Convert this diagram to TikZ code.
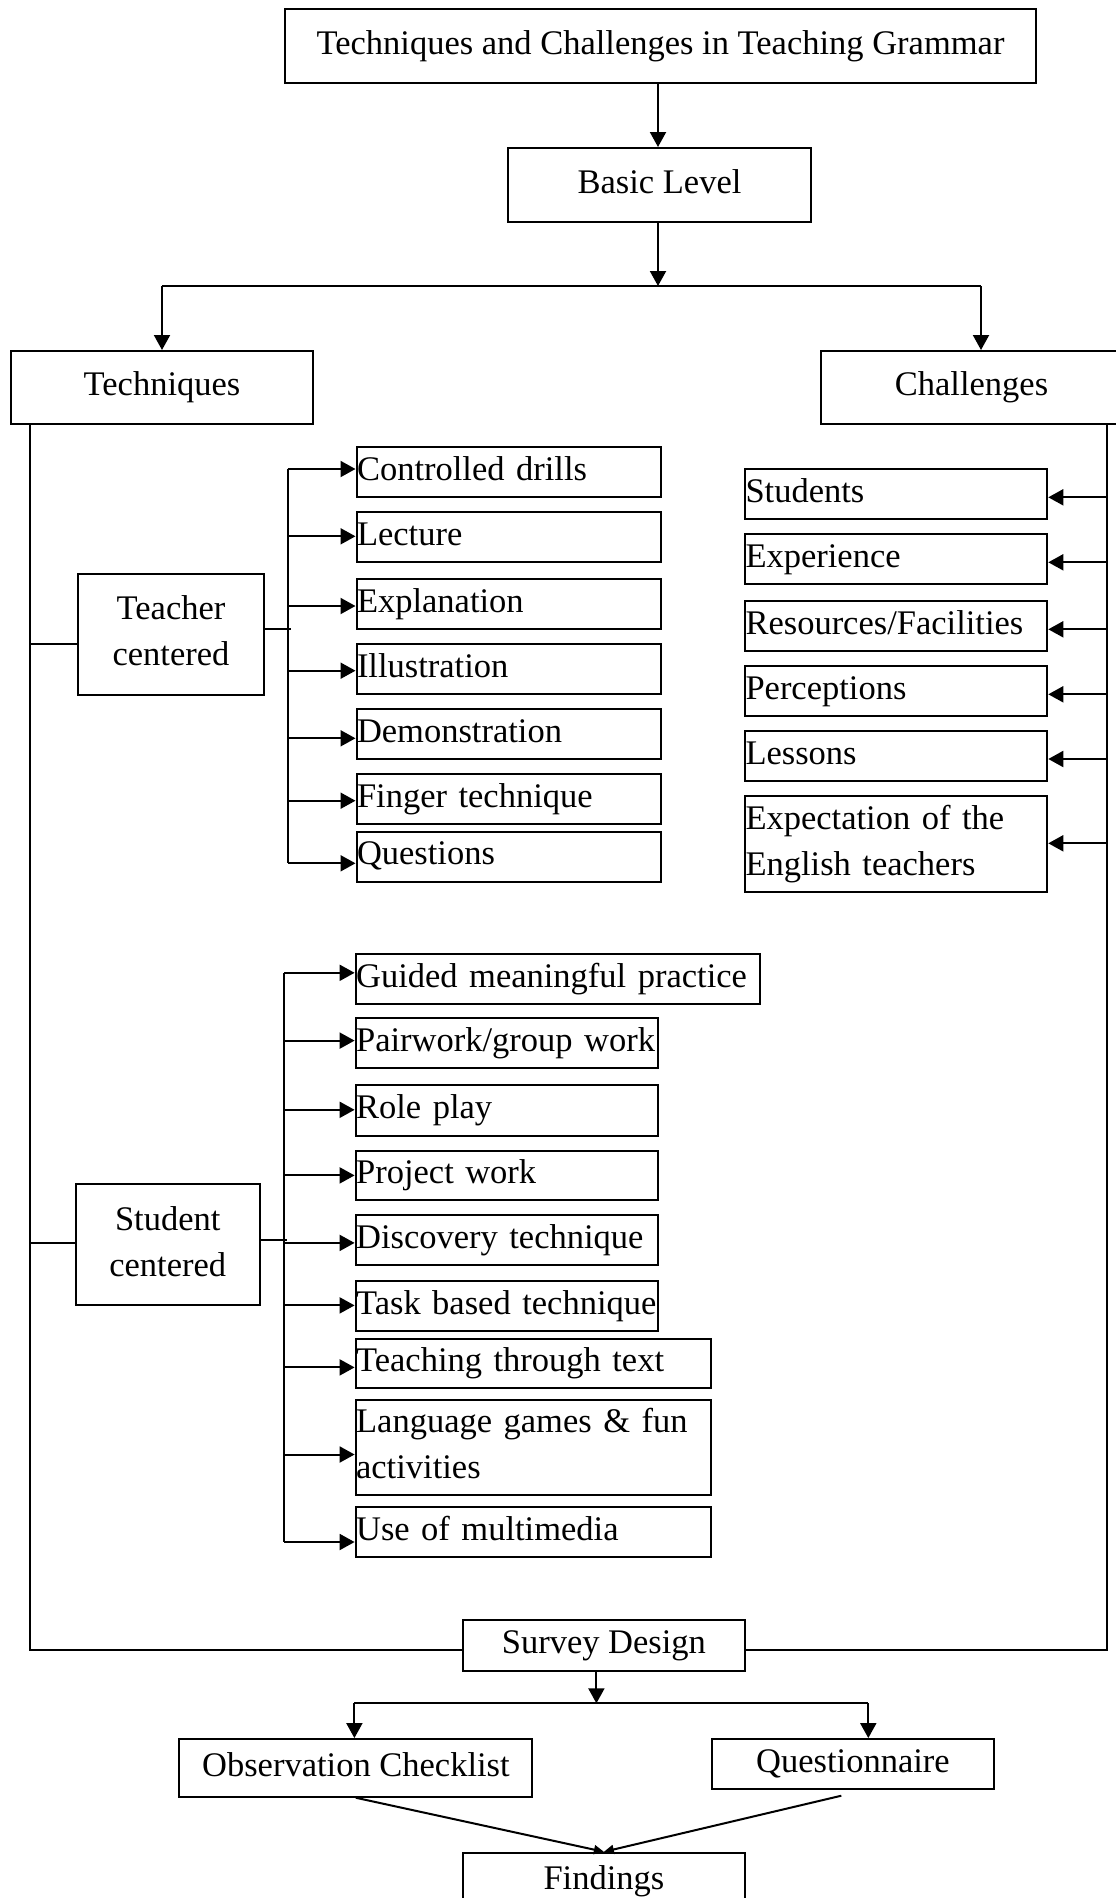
\documentclass[tikz,border=0pt]{standalone}
\usepackage{fontspec}
\setmainfont{Liberation Serif}
\usetikzlibrary{arrows.meta}
\newcommand{\mystr}{\rule[-7.5pt]{0pt}{31.5pt}}
\begin{document}
\begin{tikzpicture}[x=1pt,y=-1pt,
  every node/.style={font=\fontsize{34.5}{46}\selectfont},
  box/.style={draw, line width=2pt, inner sep=0pt, align=center},
  lbox/.style={draw, line width=2pt, inner xsep=0.5pt, inner ysep=0pt, align=left},
  ln/.style={line width=2pt},
  arr/.style={line width=2pt,-{Triangle[length=15pt,width=16pt]}},
  sarr/.style={line width=2pt,-{Triangle[length=10pt,width=9pt]}}]
\clip (0,0) rectangle (1116,1898);
\fill[white] (0,0) rectangle (1116,1898);
% top level
\node[box, minimum width=751pt, minimum height=74pt] (title) at (660.5,46.3) {\mystr Techniques and Challenges in Teaching Grammar};
\node[box, minimum width=303pt, minimum height=74pt] (basic) at (659.5,185) {\mystr Basic Level};
\node[box, minimum width=302pt, minimum height=73pt] (tech) at (162,387.5) {\mystr Techniques};
\node[box, minimum width=301pt, minimum height=73pt] (chal) at (971.5,387.5) {\mystr Challenges};
% teacher centered
\node[box, minimum width=186pt, minimum height=121.3pt] (teacher) at (171,634.4) {\mystr Teacher\\\mystr centered};
\node[lbox, text width=303.5pt, minimum height=50pt] (cd) at (508.75,472.3) {\mystr Controlled drills};
\node[lbox, text width=303.5pt, minimum height=50pt] (lec) at (508.75,537.3) {\mystr Lecture};
\node[lbox, text width=303.5pt, minimum height=50pt] (expl) at (508.75,604.3) {\mystr Explanation};
\node[lbox, text width=303.5pt, minimum height=50pt] (ill) at (508.75,669.3) {\mystr Illustration};
\node[lbox, text width=303.5pt, minimum height=50pt] (dem) at (508.75,734) {\mystr Demonstration};
\node[lbox, text width=303.5pt, minimum height=50pt] (fin) at (508.75,799) {\mystr Finger technique};
\node[lbox, text width=303.5pt, minimum height=50pt] (que) at (508.75,856.7) {\mystr Questions};
% challenges
\node[lbox, text width=301.3pt, minimum height=50pt] (stu) at (896.15,494) {\mystr Students};
\node[lbox, text width=301.3pt, minimum height=50pt] (exp) at (896.15,559) {\mystr Experience};
\node[lbox, text width=301.3pt, minimum height=50pt] (res) at (896.15,626) {\mystr Resources/Facilities};
\node[lbox, text width=301.3pt, minimum height=50pt] (per) at (896.15,691) {\mystr Perceptions};
\node[lbox, text width=301.3pt, minimum height=49.7pt] (les) at (896.15,755.85) {\mystr Lessons};
\node[lbox, text width=301.3pt, minimum height=96pt] (expc) at (896.15,843.7) {\mystr Expectation of the\\\mystr English teachers};
% student centered
\node[box, minimum width=184.5pt, minimum height=121pt] (student) at (167.75,1244.9) {\mystr Student\\\mystr centered};
\node[lbox, text width=403.4pt, minimum height=50pt] (gmp) at (557.8,978.6) {\mystr Guided meaningful practice};
\node[lbox, text width=301.4pt, minimum height=50pt] (pair) at (506.8,1043.3) {\mystr Pairwork/group work};
\node[lbox, text width=301.4pt, minimum height=50.4pt] (role) at (506.8,1110.5) {\mystr Role play};
\node[lbox, text width=301.4pt, minimum height=49.5pt] (proj) at (506.8,1175.65) {\mystr Project work};
\node[lbox, text width=301.4pt, minimum height=50.5pt] (disc) at (506.8,1240) {\mystr Discovery technique};
\node[lbox, text width=301.4pt, minimum height=50pt] (task) at (506.8,1305.8) {\mystr Task based technique};
\node[lbox, text width=354.1pt, minimum height=49pt] (tt) at (533.15,1363) {\mystr Teaching through text};
\node[lbox, text width=354.1pt, minimum height=95pt] (lang) at (533.15,1447.5) {\mystr Language games \& fun\\\mystr activities};
\node[lbox, text width=354.1pt, minimum height=50pt] (mult) at (533.15,1532) {\mystr Use of multimedia};
% bottom
\node[box, minimum width=282.6pt, minimum height=50.7pt] (survey) at (603.9,1645.3) {\mystr Survey Design};
\node[box, minimum width=353pt, minimum height=57.7pt] (obs) at (355.9,1767.9) {\mystr Observation Checklist};
\node[box, minimum width=282.6pt, minimum height=50.3pt] (quest) at (853,1764.2) {\mystr Questionnaire};
\node[box, minimum width=282.6pt, minimum height=57.3pt] (find) at (603.9,1881.4) {\mystr Findings};
% top connectors
\coordinate (br) at (658,286);
\coordinate (bl) at (162,286);
\coordinate (brr) at (981,286);
\draw[arr] (title.south -| br) -- (basic.north -| br);
\draw[arr] (basic.south -| br) -- (br);
\draw[ln] (bl) -- (brr);
\draw[arr] (bl) -- (tech.north);
\draw[arr] (brr) -- (brr |- chal.north);
% side lines
\coordinate (lt) at (30,424);
\coordinate (lb) at (30,1650);
\coordinate (rt) at (1107.3,424);
\coordinate (rb) at (1107.3,1650);
\draw[ln] (lt |- tech.south) -- (lb) -- (lb -| survey.west);
\draw[ln] (rt |- chal.south) -- (rb) -- (rb -| survey.east);
% teacher links
\coordinate (tl) at (30,644);
\coordinate (tr) at (291,629);
\draw[ln] (tl) -- (tl -| teacher.west);
\draw[ln] (tr -| teacher.east) -- (tr);
\coordinate (a1) at (287.5,469);
\coordinate (a2) at (287.5,536.3);
\coordinate (a3) at (287.5,606);
\coordinate (a4) at (287.5,670.7);
\coordinate (a5) at (287.5,738.3);
\coordinate (a6) at (287.5,800.7);
\coordinate (a7) at (287.5,863.3);
\draw[ln] (a1) -- (a7);
\draw[arr] (a1) -- (a1 -| cd.west);
\draw[arr] (a2) -- (a2 -| lec.west);
\draw[arr] (a3) -- (a3 -| expl.west);
\draw[arr] (a4) -- (a4 -| ill.west);
\draw[arr] (a5) -- (a5 -| dem.west);
\draw[arr] (a6) -- (a6 -| fin.west);
\draw[arr] (a7) -- (a7 -| que.west);
% challenge links
\coordinate (c1) at (1107.3,497.3);
\coordinate (c2) at (1107.3,562.3);
\coordinate (c3) at (1107.3,629.3);
\coordinate (c4) at (1107.3,694.3);
\coordinate (c5) at (1107.3,759);
\coordinate (c6) at (1107.3,843.3);
\draw[arr] (c1) -- (c1 -| stu.east);
\draw[arr] (c2) -- (c2 -| exp.east);
\draw[arr] (c3) -- (c3 -| res.east);
\draw[arr] (c4) -- (c4 -| per.east);
\draw[arr] (c5) -- (c5 -| les.east);
\draw[arr] (c6) -- (c6 -| expc.east);
% student links
\coordinate (sl) at (30,1242.9);
\coordinate (sr) at (287,1240);
\draw[ln] (sl) -- (sl -| student.west);
\draw[ln] (sr -| student.east) -- (sr);
\coordinate (s1) at (284,972.8);
\coordinate (s2) at (284,1040.6);
\coordinate (s3) at (284,1109.8);
\coordinate (s4) at (284,1175.4);
\coordinate (s5) at (284,1242.9);
\coordinate (s6) at (284,1305.4);
\coordinate (s7) at (284,1367.4);
\coordinate (s8) at (284,1454.5);
\coordinate (s9) at (284,1542);
\draw[ln] (s1) -- (s9);
\draw[arr] (s1) -- (s1 -| gmp.west);
\draw[arr] (s2) -- (s2 -| pair.west);
\draw[arr] (s3) -- (s3 -| role.west);
\draw[arr] (s4) -- (s4 -| proj.west);
\draw[arr] (s5) -- (s5 -| disc.west);
\draw[arr] (s6) -- (s6 -| task.west);
\draw[arr] (s7) -- (s7 -| tt.west);
\draw[arr] (s8) -- (s8 -| lang.west);
\draw[arr] (s9) -- (s9 -| mult.west);
% survey branch
\coordinate (sb) at (596.4,1703.3);
\coordinate (sbl) at (354.4,1703.3);
\coordinate (sbr) at (868.3,1703.3);
\draw[arr] (sb |- survey.south) -- (sb);
\draw[ln] (sbl) -- (sbr);
\draw[arr] (sbl) -- (sbl |- obs.north);
\draw[arr] (sbr) -- (sbr |- quest.north);
% findings
\coordinate (q1) at (841.3,1795.7);
\draw[sarr] (obs.south) -- (find.north);
\draw[sarr] (q1) -- (find.north);
\end{tikzpicture}
\end{document}
